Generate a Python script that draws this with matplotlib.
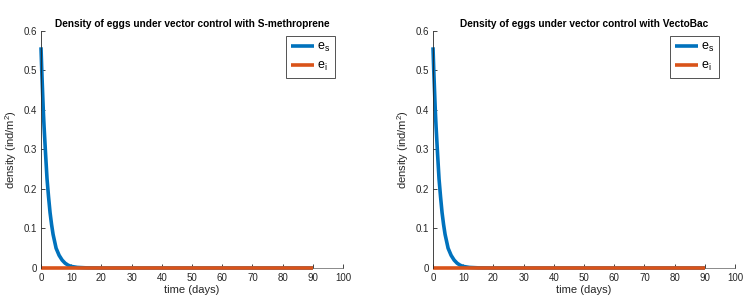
import matplotlib
matplotlib.use("Agg")
import matplotlib.pyplot as plt

# data
t_es = [0, 0.25, 0.5, 0.75, 1, 1.5, 2, 2.5, 3, 3.5, 4, 5, 6, 7, 8, 9, 10, 12, 15, 20, 30, 50, 90]
es_sm = [0.558, 0.50, 0.45, 0.40, 0.36, 0.29, 0.225, 0.18, 0.14, 0.11, 0.085, 0.05,
         0.032, 0.02, 0.012, 0.007, 0.004, 0.0015, 0.0004, 0.0, 0.0, 0.0, 0.0]
es_vb = [0.558, 0.50, 0.45, 0.40, 0.36, 0.29, 0.225, 0.18, 0.14, 0.11, 0.085, 0.05,
         0.032, 0.02, 0.012, 0.007, 0.004, 0.0015, 0.0004, 0.0, 0.0, 0.0, 0.0]
t_ei = [0, 90]
ei_sm = [0.0, 0.0]
ei_vb = [0.0, 0.0]

titles = ["Density of eggs under vector control with S-methroprene",
          "Density of eggs under vector control with VectoBac"]
xticks = [0, 10, 20, 30, 40, 50, 60, 70, 80, 90, 100]
yticks = [0, 0.1, 0.2, 0.3, 0.4, 0.5, 0.6]
ytick_labels = ["0", "0.1", "0.2", "0.3", "0.4", "0.5", "0.6"]

plt.rcParams['font.family'] = ['Liberation Sans', 'DejaVu Sans']
plt.rcParams['mathtext.default'] = 'regular'

W, H = 752, 304
fig = plt.figure(figsize=(W / 100, H / 100), dpi=100)

blue = '#0072BD'
orange = '#D95319'
axcol = '#262626'

def px_rect(x0, x1, ytop, ybot):
    return [x0 / W, (H - ybot) / H, (x1 - x0) / W, (ybot - ytop) / H]

axes_rects = [px_rect(41, 343, 30.7, 268), px_rect(433, 735, 30.7, 268)]
legend_anchor = [(335, 36), (719, 36)]
series = [(es_sm, ei_sm), (es_vb, ei_vb)]

for i in range(2):
    ax = fig.add_axes(axes_rects[i])
    es, ei = series[i]
    ax.plot(t_es, es, color=blue, lw=2.6, clip_on=False, label='e$_s$', solid_capstyle='butt')
    ax.plot(t_ei, ei, color=orange, lw=2.6, clip_on=False, label='e$_i$', solid_capstyle='butt')
    ax.set_xlim(0, 100)
    ax.set_ylim(0, 0.6)
    ax.set_xticks(xticks)
    ax.set_yticks(yticks)
    ax.set_yticklabels(ytick_labels)
    for s in ['top', 'right']:
        ax.spines[s].set_visible(False)
    for s in ['left', 'bottom']:
        ax.spines[s].set_color(axcol)
        ax.spines[s].set_linewidth(0.6)
    ax.spines['bottom'].set_color('#777777')
    ax.spines['bottom'].set_zorder(0.5)
    ax.tick_params(direction='in', length=3, width=0.6, colors=axcol, labelsize=7)
    ax.tick_params(axis='x', pad=3.5)
    ax.tick_params(axis='y', pad=3)
    ax.set_xlabel('time (days)', fontsize=8, color=axcol, labelpad=1.5)
    ax.set_ylabel('density (ind/m$^2$)', fontsize=8, color=axcol, labelpad=3)
    ax.set_title(titles[i], fontsize=7.3, fontweight='bold', pad=3)
    ax.patch.set_visible(False)
    lx, ly = legend_anchor[i]
    leg = ax.legend(loc='upper right', bbox_to_anchor=(lx / W, 1 - ly / H),
                    bbox_transform=fig.transFigure, fontsize=9, frameon=True,
                    fancybox=False, edgecolor='#262626', handlelength=1.9,
                    handletextpad=0.2, borderpad=0.4, labelspacing=0.5,
                    borderaxespad=0)
    leg.get_frame().set_linewidth(0.7)

fig.savefig('out.png', dpi=100, facecolor='white')
